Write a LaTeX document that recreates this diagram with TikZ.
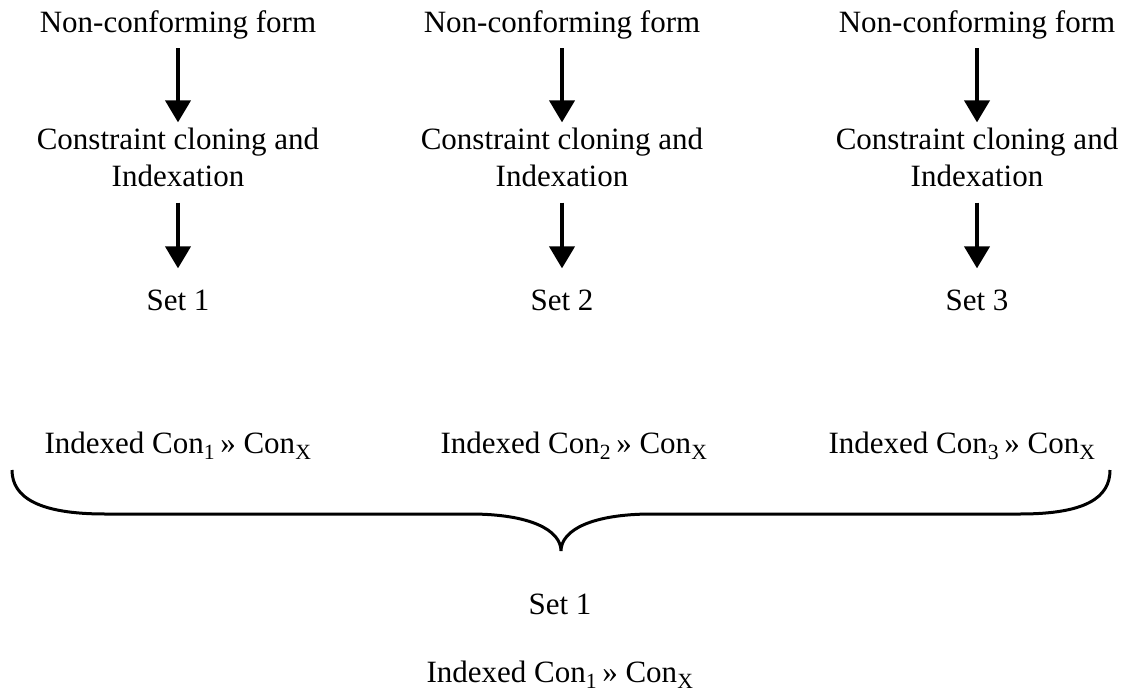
\documentclass[tikz,border=0pt]{standalone}
\usepackage{fontspec}
\setmainfont{Liberation Serif}
\usetikzlibrary{arrows.meta}
\tikzset{
  lbl/.style={inner sep=0pt, align=center, font=\fontsize{31}{37}\selectfont},
  flow/.style={line width=4pt, -{Triangle[width=25pt,length=22pt]}},
  bracestroke/.style={line width=3pt},
}
\newcommand{\idx}[1]{Indexed Con\textsubscript{#1}\,» Con\textsubscript{X}}
\begin{document}
\begin{tikzpicture}[x=1pt,y=-1pt]
\useasboundingbox (0,0) rectangle (1129,692);
\foreach \c/\x/\xi in {1/178/178, 2/562/574, 3/977/962}{
  \node[lbl] (nc\c) at (\x,25) {Non-conforming form};
  \node[lbl] (cc\c) at (\x,157) {Constraint cloning and\\Indexation};
  \node[lbl] (s\c) at (\x,300) {Set \c};
  \node[lbl] (ix\c) at (\xi,446) {\idx{\c}};
  \draw[flow, shorten <=9pt, shorten >=5pt] (nc\c.south) -- (cc\c.north);
  \draw[flow, shorten <=16pt, shorten >=21pt] (cc\c.south) -- (s\c.north);
}
\draw[bracestroke] (12,470) .. controls (12,498) and (40,514) .. (105,514)
  -- (470,514) .. controls (530,514) and (561,530) .. (561,551)
  .. controls (561,530) and (592,514) .. (652,514)
  -- (1020,514) .. controls (1085,514) and (1110,498) .. (1110,470);
\node[lbl] (bs) at (560,604) {Set 1};
\node[lbl] (bi) at (560,675) {\idx{1}};
\end{tikzpicture}
\end{document}
